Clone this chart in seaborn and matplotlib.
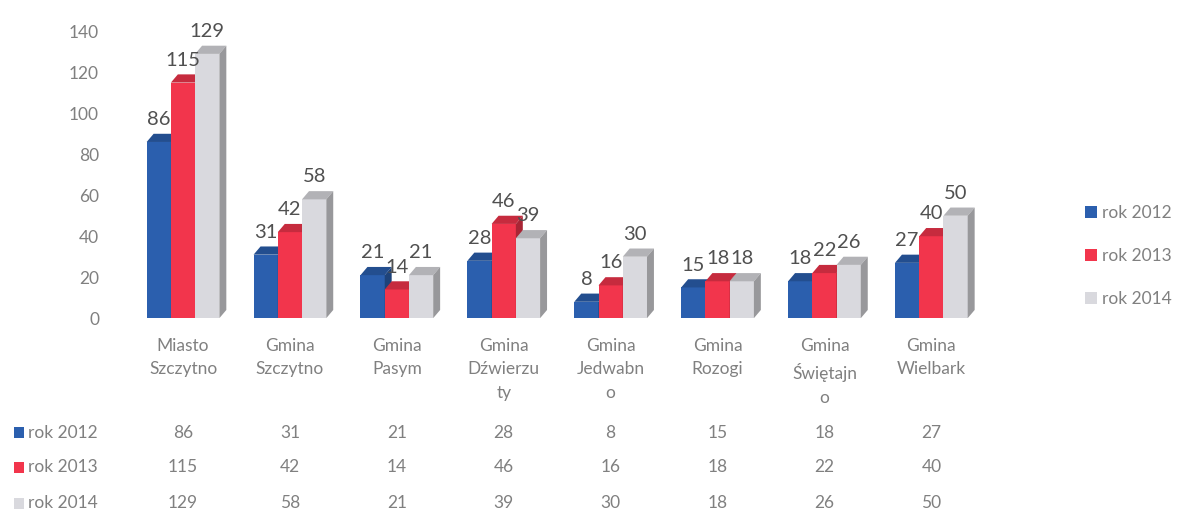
import numpy as np
import pandas as pd
import matplotlib
matplotlib.use("Agg")
import matplotlib.pyplot as plt
import matplotlib.colors as mcolors
from matplotlib.patches import Polygon, Rectangle, Patch
from matplotlib.transforms import blended_transform_factory
import seaborn as sns

# ===== dane =====
categories = ["Miasto\nSzczytno", "Gmina\nSzczytno", "Gmina\nPasym", "Gmina\nDźwierzu\nty",
              "Gmina\nJedwabn\no", "Gmina\nRozogi", "Gmina\nŚwiętajn\no", "Gmina\nWielbark"]
series = ["rok 2012", "rok 2013", "rok 2014"]
rok_2012 = [86, 31, 21, 28, 8, 15, 18, 27]
rok_2013 = [115, 42, 14, 46, 16, 18, 22, 40]
rok_2014 = [129, 58, 21, 39, 30, 18, 26, 50]
yticks = [0, 20, 40, 60, 80, 100, 120, 140]

colors = ["#2b5fae", "#f2354c", "#d9d9de"]
text_grey = "#808080"

df = pd.DataFrame({
    "kategoria": categories * 3,
    "seria": sum([[s] * len(categories) for s in series], []),
    "wartosc": rok_2012 + rok_2013 + rok_2014,
})

sns.set_style("white")
plt.rcParams["font.family"] = ["Lato", "DejaVu Sans"]

fig = plt.figure(figsize=(11.78, 5.14), dpi=100)
ax = fig.add_axes([0.110, 0.381, 0.726, 0.558])

sns.barplot(data=df, x="kategoria", y="wartosc", hue="seria", order=categories,
            hue_order=series, palette=colors, width=0.68, gap=0, saturation=1,
            legend=False, ax=ax, linewidth=0)

# ===== efekt 3D =====
dx, dy = 0.065, 4.0
for i, cont in enumerate(ax.containers):
    base = mcolors.to_rgb(colors[i])
    top_c = tuple(c * 0.82 for c in base)
    side_c = tuple(c * 0.70 for c in base)
    for bar in cont:
        bar.set_zorder(3 + i)
        x0 = bar.get_x()
        w = bar.get_width()
        h = bar.get_height()
        top = Polygon([[x0, h], [x0 + dx, h + dy], [x0 + w + dx, h + dy], [x0 + w, h]],
                      closed=True, facecolor=top_c, edgecolor="none", zorder=3 + i)
        side = Polygon([[x0 + w, 0], [x0 + w + dx, dy], [x0 + w + dx, h + dy], [x0 + w, h]],
                       closed=True, facecolor=side_c, edgecolor="none", zorder=3 + i)
        ax.add_patch(top)
        ax.add_patch(side)
    ax.bar_label(cont, labels=[str(int(b.get_height())) for b in cont], padding=10,
                 fontsize=14.5, color="#505050", zorder=10)

ax.set_ylim(0, 140)
ax.set_xlim(-0.5, len(categories) - 0.5)
ax.set_yticks(yticks)
ax.set_yticklabels([str(t) for t in yticks], color=text_grey, fontsize=12.5)
ax.tick_params(axis="y", length=0, pad=22)
ax.tick_params(axis="x", length=0, pad=14)
ax.set_xticklabels(categories, color=text_grey, fontsize=12.5, linespacing=1.6, va="top")
ax.set_xlabel("")
ax.set_ylabel("")
for s in ax.spines.values():
    s.set_visible(False)
ax.patch.set_alpha(0)

# ===== tabela danych =====
trans = blended_transform_factory(ax.transData, fig.transFigure)
row_y = [0.158, 0.091, 0.021]
for r, (name, vals) in enumerate(zip(series, [rok_2012, rok_2013, rok_2014])):
    fig.add_artist(Rectangle((0.012, row_y[r] - 0.011), 0.0085, 0.022, transform=fig.transFigure,
                             facecolor=colors[r], edgecolor="none"))
    fig.text(0.024, row_y[r], name, color=text_grey, fontsize=12.5, va="center", ha="left")
    for j, v in enumerate(vals):
        ax.text(j, row_y[r], str(v), transform=trans, color=text_grey, fontsize=12.5,
                ha="center", va="center")

# ===== legenda =====
handles = [Patch(facecolor=c, edgecolor="none") for c in colors]
leg = fig.legend(handles, series, loc="center left", bbox_to_anchor=(0.908, 0.502),
                 frameon=False, fontsize=12.5, labelspacing=1.55, handlelength=0.65,
                 handleheight=0.65, handletextpad=0.3)
for t in leg.get_texts():
    t.set_color(text_grey)

fig.savefig("out.png", dpi=100, facecolor="white")
